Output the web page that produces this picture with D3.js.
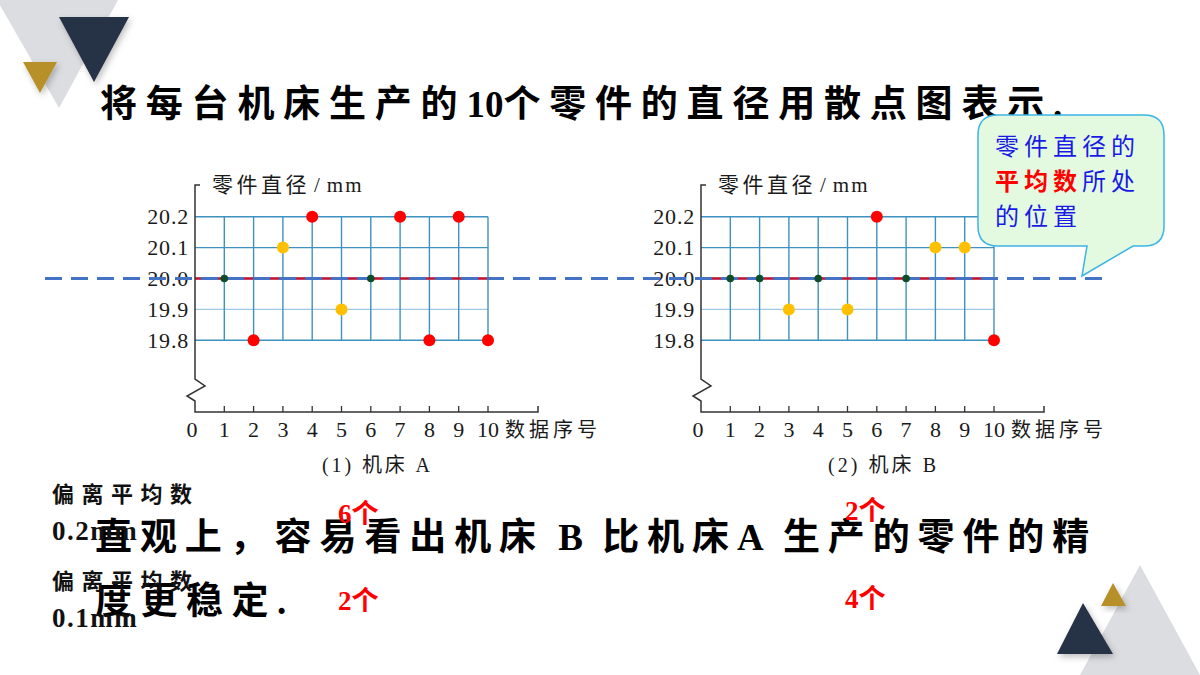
<!DOCTYPE html>
<html><head><meta charset="utf-8">
<script src="https://cdn.jsdelivr.net/npm/d3@7"></script>
<style>
html,body{margin:0;padding:0;background:#fff;}
svg{display:block;}
</style></head>
<body>
<svg id="c" width="1200" height="675"></svg>
<script>
// ---- data ----
const seq = [1,2,3,4,5,6,7,8,9,10];
const machineA = [20.0,19.8,20.1,20.2,19.9,20.0,20.2,19.8,20.2,19.8];
const machineB = [20.0,20.0,19.9,20.0,19.9,20.2,20.0,20.1,20.1,19.8];
const xTicks = [0,1,2,3,4,5,6,7,8,9,10];
const yTicks = [19.8,19.9,20.0,20.1,20.2];
const yTickLabels = ["19.8","19.9","20.0","20.1","20.2"];
const meanValue = 20.0;
const chartCaptions = ["(1) 机床 A","(2) 机床 B"];
const yTitle = "零件直径／mm";
const xTitle = "数据序号";
const titleText = "将每台机床生产的10个零件的直径用散点图表示.";
const bodyLine1 = "直观上，容易看出机床 B 比机床A 生产的零件的精";
const bodyLine2 = "度更稳定.";
const devLabel = "偏离平均数";
const devValues = ["0.2mm","0.1mm"];
const countsA = ["6个","2个"];
const countsB = ["2个","4个"];

const svg = d3.select("#c");
const serif = "'Liberation Serif','Noto Sans CJK SC',serif";
const cjkRe = /[\u3000-\u9fff\uff00-\uffef]/;

// text with separate letter-spacing for CJK runs and Latin runs
function mixedText(x, y, str, o) {
  const t = svg.append("text").attr("x", x).attr("y", y).attr("font-family", serif)
    .attr("font-size", o.size).attr("font-weight", o.weight || "normal").attr("fill", o.fill || "#000");
  const runs = [];
  for (const ch of str) {
    const c = cjkRe.test(ch);
    if (runs.length && runs[runs.length-1].c === c) runs[runs.length-1].s += ch;
    else runs.push({c, s: ch});
  }
  runs.forEach(r => t.append("tspan").attr("letter-spacing", r.c ? o.ls : (o.lls || 0)).text(r.s.replace(/ /g, "\u00a0")));
  return t;
}

// defs: shadow
const defs = svg.append("defs");
const f = defs.append("filter").attr("id","sh").attr("x","-30%").attr("y","-30%").attr("width","160%").attr("height","160%");
f.append("feDropShadow").attr("dx",2).attr("dy",3).attr("stdDeviation",3).attr("flood-color","#000").attr("flood-opacity",0.25);

// ---- decorations ----
const tri = (pts, fill, sh) => svg.append("path").attr("d", d3.line()(pts) + "Z").attr("fill", fill).attr("filter", sh ? "url(#sh)" : null);
tri([[-3,0],[118,0],[59,108]], "#dcdde0", false);
tri([[59,17],[129,17],[94,82]], "#283044", true);
tri([[23,62],[57,62],[40,93]], "#b8902c", true);
tri([[1140,565],[1080,675],[1200,675]], "#dcdde0", false);
tri([[1083,603],[1057,654],[1113,654]], "#283044", true);
tri([[1113,583],[1101,606],[1126,606]], "#b8902c", true);

// ---- title ----
mixedText(100, 117, titleText, {size: 37, weight: "bold", ls: 8.8});

// ---- charts ----
const y = d3.scaleLinear().domain([19.8,20.2]).range([340.3,216.7]);
const colorFor = v => { const d = Math.abs(v - meanValue); return d > 0.15 ? "#ff0000" : d > 0.05 ? "#ffc000" : "#0d4d2a"; };
const rFor = v => Math.abs(v - meanValue) > 0.05 ? 6 : 3.8;
const gridColor = "#3f92c0";
const pointLayers = [];

function drawChart(x0, data, caption) {
  const x = d3.scaleLinear().domain([0,10]).range([x0, x0 + 293]);
  const g = svg.append("g");
  g.selectAll(".hg").data(yTicks).join("line")
    .attr("x1", x(0)).attr("x2", x(10)).attr("y1", d => y(d)).attr("y2", d => y(d))
    .attr("stroke", d => d === 19.9 ? "#9ccbe2" : gridColor).attr("stroke-width", 1.4);
  g.selectAll(".vg").data(seq).join("line")
    .attr("x1", d => x(d)).attr("x2", d => x(d)).attr("y1", y(20.2)).attr("y2", y(19.8))
    .attr("stroke", gridColor).attr("stroke-width", 1.4);
  g.append("line").attr("x1", x(0)).attr("x2", x(10)).attr("y1", y(meanValue)).attr("y2", y(meanValue))
    .attr("stroke", "#c4122f").attr("stroke-width", 2.6);
  const ax = x(0);
  g.append("path").attr("fill","none").attr("stroke","#333").attr("stroke-width",1.5)
    .attr("d", d3.line()([[ax+5,185],[ax,185],[ax,379],[ax+10,386],[ax-8,396],[ax,401],[ax,412],[x(10)+50,412],[x(10)+50,406]]));
  g.selectAll(".xt").data(seq).join("line")
    .attr("x1", d => x(d)).attr("x2", d => x(d)).attr("y1", 406).attr("y2", 412)
    .attr("stroke","#333").attr("stroke-width",1.3);
  g.selectAll(".xl").data(xTicks).join("text")
    .attr("x", d => d === 0 ? x(d) - 3 : x(d)).attr("y", 437).attr("text-anchor","middle")
    .attr("font-family", serif).attr("font-size", 22).attr("fill","#1a1a1a").text(d => d);
  g.append("text").attr("x", x(10) + 17).attr("y", 437).attr("font-family", serif).attr("font-size", 20)
    .attr("letter-spacing", 4).attr("fill","#1a1a1a").text(xTitle);
  g.selectAll(".yl").data(yTicks).join("text")
    .attr("x", ax - 6).attr("y", d => y(d) + 7.5).attr("text-anchor","end")
    .attr("font-family", serif).attr("font-size", 22).attr("letter-spacing", 0.8).attr("fill","#1a1a1a")
    .text((d,i) => yTickLabels[i]);
  const yt = g.append("text").attr("x", ax + 17).attr("y", 192).attr("font-family", serif).attr("font-size", 21).attr("fill","#1a1a1a");
  yt.append("tspan").attr("letter-spacing", 3.5).text(yTitle.slice(0,4));
  yt.append("tspan").attr("font-family","'Liberation Serif',serif").attr("dx",4).text("/");
  yt.append("tspan").attr("dx",7).attr("letter-spacing", 2).text(yTitle.slice(5));
  g.append("text").attr("x", ax + 127).attr("y", 472).attr("font-family", serif).attr("font-size", 20)
    .attr("textLength", 108).attr("lengthAdjust","spacing").attr("fill","#1a1a1a").text(caption);
  pointLayers.push({x, data});
}
drawChart(195, machineA, chartCaptions[0]);
drawChart(701, machineB, chartCaptions[1]);

// ---- callout ----
svg.append("path")
  .attr("d", "M998,115 H1144 Q1164,115 1164,135 V226 Q1164,246 1144,246 H1133 L1082,276 L1087,246 H998 Q978,246 978,226 V135 Q978,115 998,115 Z")
  .attr("fill","#e3fae0").attr("stroke","#3cb4e6").attr("stroke-width",1.5);
const cf = "'Noto Sans CJK SC',sans-serif";
svg.append("text").attr("x",995).attr("y",155).attr("font-family",cf).attr("font-size",24).attr("letter-spacing",5).attr("fill","#1a1ae6").text("零件直径的");
const t2 = svg.append("text").attr("x",995).attr("y",190).attr("font-family",cf).attr("font-size",24).attr("letter-spacing",5);
t2.append("tspan").attr("fill","#ff0000").attr("font-weight","bold").text("平均数");
t2.append("tspan").attr("fill","#1a1ae6").text("所处");
svg.append("text").attr("x",995).attr("y",225).attr("font-family",cf).attr("font-size",24).attr("letter-spacing",5).attr("fill","#1a1ae6").text("的位置");

// ---- dashed mean reference line ----
svg.append("line").attr("x1",45).attr("x2",1105).attr("y1",y(meanValue)).attr("y2",y(meanValue))
  .attr("stroke","#4472c4").attr("stroke-width",3).attr("stroke-dasharray","17 9");

// ---- points ----
pointLayers.forEach(({x, data}) => {
  svg.append("g").selectAll("circle").data(data).join("circle")
    .attr("cx", (d,i) => x(seq[i])).attr("cy", d => y(d))
    .attr("r", d => rFor(d)).attr("fill", d => colorFor(d));
});

// ---- bottom text ----
mixedText(95, 550, bodyLine1, {size: 37, weight: "bold", ls: 7.9, lls: 5});
mixedText(95, 614, bodyLine2, {size: 37, weight: "bold", ls: 8.5});

// left annotation
[[502,540],[589,627]].forEach((yy,i) => {
  svg.append("text").attr("x",52).attr("y",yy[0]).attr("font-family",serif).attr("font-weight","bold").attr("font-size",22)
    .attr("letter-spacing",7.5).attr("fill","#111").text(devLabel);
  svg.append("text").attr("x",52).attr("y",yy[1]).attr("font-family",serif).attr("font-weight","bold").attr("font-size",27)
    .attr("letter-spacing",1.5).attr("fill","#111").text(devValues[i]);
});
// counts
const cnt = (x, yy, t) => svg.append("text").attr("x",x).attr("y",yy).attr("font-family",serif).attr("font-weight","bold")
  .attr("font-size",27).attr("fill","#ff0000").text(t);
cnt(338,523,countsA[0]); cnt(338,610,countsA[1]);
cnt(845,520,countsB[0]); cnt(845,608,countsB[1]);
</script>
</body></html>
